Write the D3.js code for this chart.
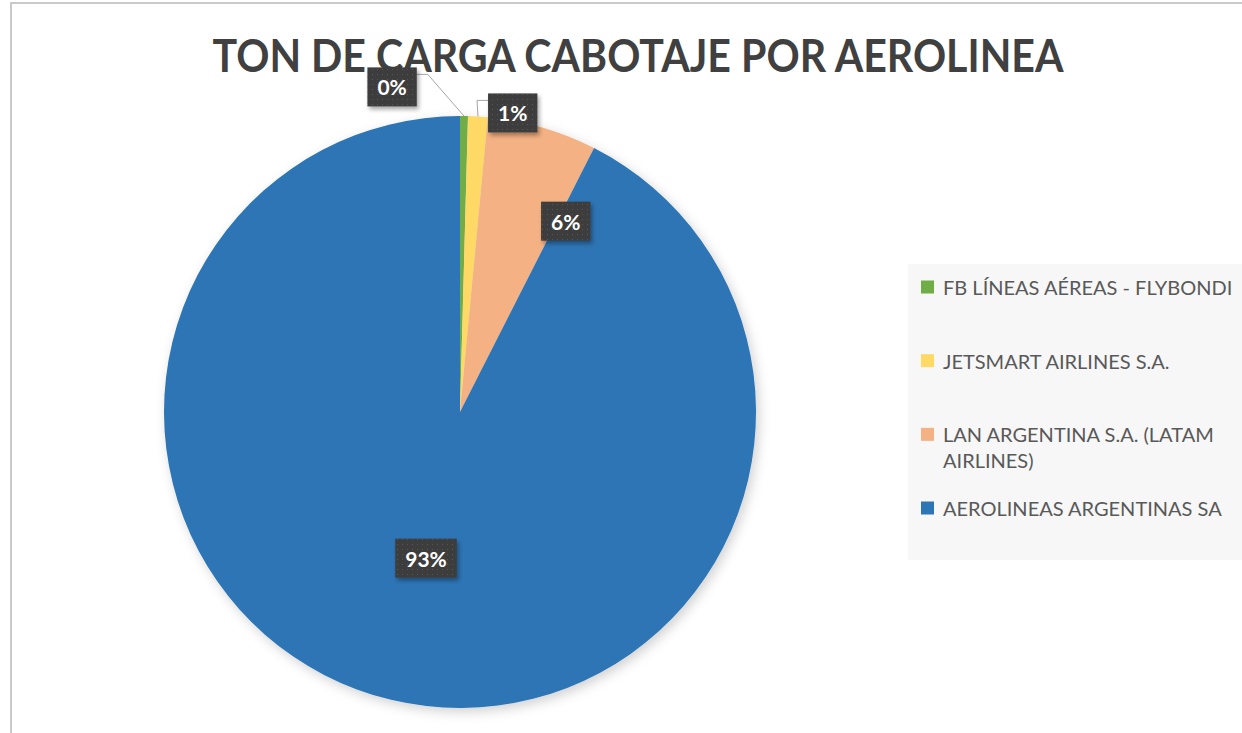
<!DOCTYPE html>
<html>
<head>
<meta charset="utf-8">
<script src="https://cdn.jsdelivr.net/npm/d3@7/dist/d3.min.js"></script>
<style>
  html, body { margin: 0; padding: 0; background: #fff; }
  svg { display: block; font-family: Lato, "Open Sans", sans-serif; }
</style>
</head>
<body>
<svg id="chart" width="1242" height="733"></svg>
<script>
// ── data ────────────────────────────────────────────────────────────
const title      = 'TON DE CARGA CABOTAJE POR AEROLINEA';
const categories = ['FB LÍNEAS AÉREAS - FLYBONDI', 'JETSMART AIRLINES S.A.',
                    'LAN ARGENTINA S.A. (LATAM AIRLINES)', 'AEROLINEAS ARGENTINAS SA'];
const shares     = [0.43, 1.07, 5.98, 92.52];   // % of tonnage
const colors     = ['#70ad47', '#ffd966', '#f4b183', '#2e75b6'];
const legendLines = [['FB LÍNEAS AÉREAS - FLYBONDI'], ['JETSMART AIRLINES S.A.'],
                     ['LAN ARGENTINA S.A. (LATAM', 'AIRLINES)'], ['AEROLINEAS ARGENTINAS SA']];

// label placement (angle in degrees clockwise from 12 o'clock, radius as fraction of r)
const labelAngle  = [-11.8, 10.0, 29.0, 193.1];
const labelRadius = [1.122, 1.026, 0.737, 0.507];
const labelOutside = [true, true, false, false];

// ── layout ──────────────────────────────────────────────────────────
const W = 1242, H = 733;
const cx = 460, cy = 412, r = 296;
const svg = d3.select('#chart');
const defs = svg.append('defs');

defs.append('filter').attr('id', 'pieShadow')
  .attr('x', '-10%').attr('y', '-10%').attr('width', '130%').attr('height', '130%')
  .append('feDropShadow')
  .attr('dx', 3).attr('dy', 4).attr('stdDeviation', 6)
  .attr('flood-color', '#000').attr('flood-opacity', 0.18);

defs.append('filter').attr('id', 'boxShadow')
  .attr('x', '-20%').attr('y', '-20%').attr('width', '150%').attr('height', '160%')
  .append('feDropShadow')
  .attr('dx', 2).attr('dy', 3).attr('stdDeviation', 2)
  .attr('flood-color', '#000').attr('flood-opacity', 0.35);

const pat = defs.append('pattern').attr('id', 'dots')
  .attr('width', 5).attr('height', 5).attr('patternUnits', 'userSpaceOnUse');
pat.append('rect').attr('width', 5).attr('height', 5).attr('fill', '#3d3d3d');
pat.append('rect').attr('x', 2).attr('y', 2).attr('width', 1).attr('height', 1).attr('fill', '#565656');

// chart frame (runs off right/bottom edge)
svg.append('rect')
  .attr('x', 11).attr('y', 3).attr('width', W + 20).attr('height', H + 20)
  .attr('fill', '#fff').attr('stroke', '#c9c9c9').attr('stroke-width', 2);

// title
svg.append('text')
  .attr('x', 638).attr('y', 72)
  .attr('text-anchor', 'middle')
  .attr('font-size', 46).attr('font-weight', 700)
  .attr('fill', '#404040')
  .attr('textLength', 851).attr('lengthAdjust', 'spacingAndGlyphs')
  .text(title);

// ── pie ─────────────────────────────────────────────────────────────
const data = categories.map((c, i) => ({ name: c, value: shares[i], color: colors[i], i }));
const pie = d3.pie().sort(null).value(d => d.value);
const arcs = pie(data);
const arc = d3.arc().innerRadius(0).outerRadius(r);

const gPie = svg.append('g').attr('transform', `translate(${cx},${cy})`);
gPie.append('g').attr('filter', 'url(#pieShadow)')
  .selectAll('path').data(arcs).join('path')
  .attr('d', arc)
  .attr('fill', d => d.data.color);

// ── data labels ─────────────────────────────────────────────────────
const total = d3.sum(shares);
const fmt = v => Math.round(v / total * 100) + '%';
const polar = (deg, rad) => {
  const a = deg * Math.PI / 180;
  return [Math.sin(a) * rad, -Math.cos(a) * rad];
};

const gLab = gPie.append('g');
arcs.forEach((a, i) => {
  const [lx, ly] = polar(labelAngle[i], labelRadius[i] * r);
  const g = gLab.append('g');
  const t = g.append('text')
    .attr('x', lx).attr('y', ly)
    .attr('text-anchor', 'middle').attr('dominant-baseline', 'central')
    .attr('font-size', 21).attr('font-weight', 700).attr('fill', '#fff')
    .text(fmt(a.data.value));
  const tw = t.node().getComputedTextLength();
  const bw = tw + 20, bh = 39;
  const bx = lx - bw / 2, by = ly - bh / 2;
  g.insert('rect', 'text')
    .attr('x', bx).attr('y', by).attr('width', bw).attr('height', bh)
    .attr('fill', 'url(#dots)').attr('filter', 'url(#boxShadow)');

  if (labelOutside[i]) {
    const mid = (a.startAngle + a.endAngle) / 2;
    const sx = Math.sin(mid) * r, sy = -Math.cos(mid) * r;
    const leftOfSlice = lx < sx;
    const ex = leftOfSlice ? bx + bw : bx;
    const ey = by + 7;
    const kx = leftOfSlice ? ex + 11 : ex - 11;
    gLab.insert('path', ':first-child')
      .attr('d', d3.line()([[sx, sy], [kx, ey], [ex, ey]]))
      .attr('fill', 'none').attr('stroke', '#a6a6a6').attr('stroke-width', 1);
  }
});

// ── legend ──────────────────────────────────────────────────────────
const gLeg = svg.append('g');
gLeg.append('rect')
  .attr('x', 908).attr('y', 264).attr('width', 360).attr('height', 296)
  .attr('fill', '#f7f7f7');

const legY = d3.scalePoint().domain(categories).range([287, 508]);
categories.forEach((c, i) => {
  const y = legY(c);
  gLeg.append('rect')
    .attr('x', 921).attr('y', y - 6.5).attr('width', 13).attr('height', 13)
    .attr('fill', colors[i]);
  const t = gLeg.append('text')
    .attr('x', 943).attr('y', y)
    .attr('dominant-baseline', 'central')
    .attr('font-size', 20).attr('fill', '#595959');
  legendLines[i].forEach((ln, k) => {
    t.append('tspan').attr('x', 943).attr('dy', k === 0 ? 0 : 26).text(ln);
  });
});
</script>
</body>
</html>
